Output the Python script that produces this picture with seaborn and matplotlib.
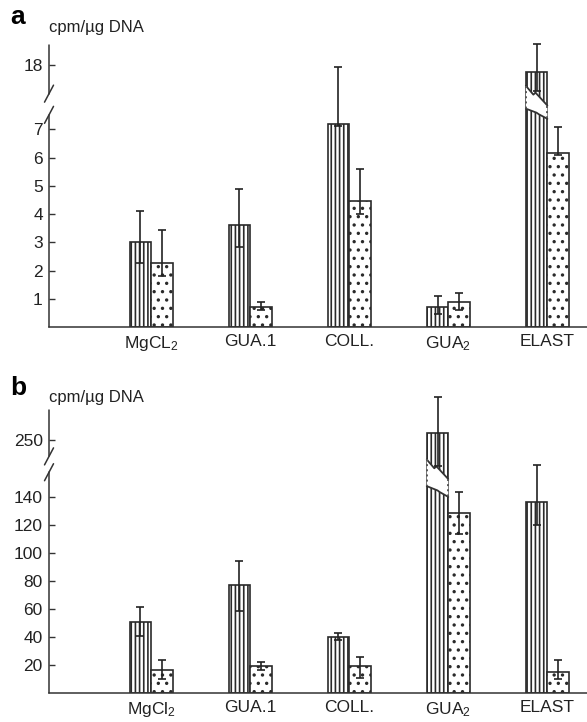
import numpy as np
import pandas as pd
import matplotlib
matplotlib.use("Agg")
import matplotlib.pyplot as plt
import seaborn as sns

# categories for the two panels
cats_a = [r"MgCL$_2$", "GUA.1", "COLL.", r"GUA$_2$", "ELAST"]
cats_b = [r"MgCl$_2$", "GUA.1", "COLL.", r"GUA$_2$", "ELAST"]
groups = ["striped", "dotted"]

# panel a, cpm/ug DNA (bar value, lower and upper end of error bar)
a_striped = [3.0, 3.6, 7.2, 0.72, 17.73]
a_striped_lo = [2.25, 2.85, 7.1, 0.45, 15.24]
a_striped_hi = [4.1, 4.9, 17.9, 1.1, 18.72]
a_dotted = [2.25, 0.72, 4.45, 0.9, 6.15]
a_dotted_lo = [1.8, 0.6, 4.0, 0.6, 6.1]
a_dotted_hi = [3.45, 0.9, 5.6, 1.2, 7.08]

# panel b
b_striped = [50.9, 76.8, 40.0, 254.8, 136.0]
b_striped_lo = [40.5, 58.8, 38.0, 194.4, 120.0]
b_striped_hi = [61.0, 94.0, 42.8, 280.5, 197.2]
b_dotted = [16.7, 19.3, 19.0, 128.3, 15.1]
b_dotted_lo = [10.0, 16.7, 11.0, 113.7, 9.9]
b_dotted_hi = [23.7, 22.0, 26.0, 143.5, 23.3]

yticks_a = [1, 2, 3, 4, 5, 6, 7, 18]
yticks_b = [20, 40, 60, 80, 100, 120, 140, 250]

sns.set_theme(style="ticks")
plt.rcParams["font.family"] = ["Liberation Sans", "DejaVu Sans"]
plt.rcParams["mathtext.default"] = "regular"
plt.rcParams["hatch.color"] = "#2a2a2a"
plt.rcParams["hatch.linewidth"] = 1.2

INK = "#222222"


def make_scale(lo, gap, hi):
    # piecewise linear y scale: squeeze [lo, hi] into a short stretch of length gap
    def fwd(v):
        v = np.asarray(v, dtype=float)
        return np.where(v <= lo, v,
                        np.where(v >= hi, v - hi + lo + gap,
                                 lo + (v - lo) * gap / (hi - lo)))

    def inv(f):
        f = np.asarray(f, dtype=float)
        return np.where(f <= lo, f,
                        np.where(f >= lo + gap, f - lo - gap + hi,
                                 lo + (f - lo) * (hi - lo) / gap))
    return fwd, inv


def panel(ax, cats, s, s_lo, s_hi, d, d_lo, d_hi, yticks, ytop, scale, spine_gap, bar_break, break_idx):
    df = pd.DataFrame({
        "sample": cats * 2,
        "group": ["striped"] * len(cats) + ["dotted"] * len(cats),
        "cpm": s + d,
    })
    sns.barplot(data=df, x="sample", y="cpm", hue="group", order=cats, hue_order=groups,
                palette={"striped": "white", "dotted": "white"}, saturation=1,
                width=0.435, errorbar=None, edgecolor="#2a2a2a", linewidth=1.2,
                legend=False, ax=ax)
    fwd, inv = scale
    ax.set_yscale("function", functions=(fwd, inv))
    ax.set_ylim(0, ytop)
    ax.set_xlim(-1.03, 4.40)

    for cont, hatch in zip(ax.containers, ["||||", ".."]):
        for bar in cont:
            bar.set_hatch(hatch)

    # error bars
    for cont, vals, lo, hi in zip(ax.containers, [s, d], [s_lo, d_lo], [s_hi, d_hi]):
        xs = [b.get_x() + b.get_width() / 2 for b in cont]
        vals = np.array(vals)
        yerr = [vals - np.array(lo), np.array(hi) - vals]
        eb = ax.errorbar(xs, vals, yerr=yerr, fmt="none", ecolor=INK, elinewidth=1.2,
                         capsize=2.6, capthick=1.2, zorder=6)
        for art in eb.get_children():
            art.set_clip_on(False)

    # break drawn inside the tallest striped bar
    bar = ax.containers[0][break_idx]
    x0, w = bar.get_x(), bar.get_width()
    f_tl, f_tr, f_bl, f_br = bar_break
    top_x = [x0, x0 + 0.35 * w, x0 + 0.45 * w, x0 + w]
    top_f = [f_tl, f_tl - 0.45 * (f_tl - f_tr), f_tl - 0.35 * (f_tl - f_tr), f_tr]
    bot_x = [x0, x0 + 0.5 * w, x0 + 0.6 * w, x0 + w]
    bot_f = [f_bl, f_bl - 0.4 * (f_bl - f_br), f_bl - 0.55 * (f_bl - f_br), f_br]
    poly_x = top_x + bot_x[::-1]
    poly_y = list(inv(top_f)) + list(inv(bot_f[::-1]))
    ax.fill(poly_x, poly_y, color="white", zorder=4, lw=0)
    ax.plot(top_x, inv(top_f), color="#333333", lw=1.3, zorder=5)
    ax.plot(bot_x, inv(bot_f), color="#333333", lw=1.3, zorder=5)
    ax.plot([x0, x0], inv([f_tl, f_bl]), color="#555555", lw=1.4, ls=":", zorder=5)
    ax.plot([x0 + w, x0 + w], inv([f_tr, f_br]), color="#555555", lw=1.4, ls=":", zorder=5)

    # axes styling
    sns.despine(ax=ax, left=True)
    ax.spines["bottom"].set_color("#333333")
    ax.spines["bottom"].set_linewidth(1.1)
    ax.set_yticks(yticks)
    ax.set_yticklabels([str(t) for t in yticks])
    ax.yaxis.set_minor_locator(matplotlib.ticker.NullLocator())
    ax.tick_params(axis="y", direction="in", length=4, width=1, pad=4.5,
                   labelsize=12.5, color="#333333", labelcolor=INK)
    ax.tick_params(axis="x", length=0, pad=5, labelsize=12.5, labelcolor=INK)
    ax.set_xlabel("")
    ax.set_ylabel("")

    # left spine with a break
    to_axes = ax.transAxes.inverted()

    def yfrac(v):
        return to_axes.transform(ax.transData.transform((0, float(v))))[1]

    g_lo, g_hi = yfrac(inv(spine_gap[0])), yfrac(inv(spine_gap[1]))
    kw = dict(transform=ax.transAxes, color="#333333", lw=1.1, clip_on=False)
    ax.plot([0, 0], [0, g_lo], **kw)
    ax.plot([0, 0], [g_hi, 1], **kw)
    bb = ax.get_window_extent()
    dx, dy = 4.5 / bb.width, 8.5 / bb.height
    for yc in (g_lo, g_hi):
        ax.plot([-dx, dx], [yc - dy, yc + dy], **kw)


fig = plt.figure(figsize=(5.87, 7.22), dpi=100)
ax_a = fig.add_axes([0.0835, 0.547, 0.9165, 0.3906])
ax_b = fig.add_axes([0.0835, 0.0402, 0.9165, 0.392])

panel(ax_a, cats_a, a_striped, a_striped_lo, a_striped_hi, a_dotted, a_dotted_lo, a_dotted_hi,
      yticks_a, 18.69, make_scale(7.7, 0.85, 17.26), (7.51, 8.26), (8.54, 7.84, 7.73, 7.37), 4)
panel(ax_b, cats_b, b_striped, b_striped_lo, b_striped_hi, b_dotted, b_dotted_lo, b_dotted_hi,
      yticks_b, 271.2, make_scale(151, 23, 243.4), (157.4, 168.7), (166.5, 152.5, 147.5, 139.8), 3)

fig.text(10 / 587, 1 - 24.5 / 722, "a", fontsize=19, fontweight="bold", color="black", va="baseline")
fig.text(49 / 587, 1 - 31.7 / 722, "cpm/µg DNA", fontsize=12, color=INK, va="baseline")
fig.text(10 / 587, 1 - 395 / 722, "b", fontsize=19, fontweight="bold", color="black", va="baseline")
fig.text(49 / 587, 1 - 401.7 / 722, "cpm/µg DNA", fontsize=12, color=INK, va="baseline")

fig.savefig("out.png", dpi=100)
